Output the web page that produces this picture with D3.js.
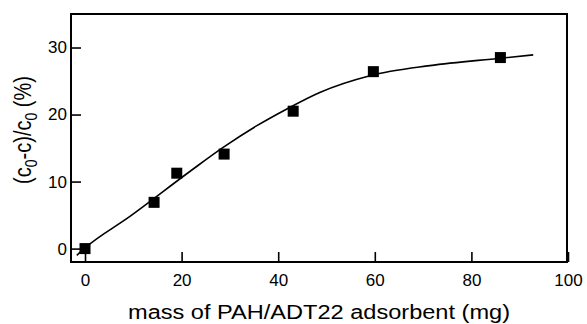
<!DOCTYPE html>
<html>
<head>
<meta charset="utf-8">
<script src="https://cdn.jsdelivr.net/npm/d3@7"></script>
<style>
  body { margin: 0; background: #fff; }
  svg { display: block; font-family: "Liberation Sans", Arial, sans-serif; }
</style>
</head>
<body>
<div id="chart"></div>
<script>
// measured points
const massMg = [0, 14.3, 19.0, 28.8, 43.1, 59.7, 86.0];
const removalPct = [0, 6.9, 11.25, 14.1, 20.5, 26.4, 28.5];

// fitted curve
const fitMass = [-1.7, 0, 9.3, 21.7, 28.6, 35.5, 41.7, 48.6, 59, 71.4, 86, 92.8];
const fitPct = [-1.0, 0.1, 4.8, 11.5, 15.1, 18.3, 20.8, 23.3, 25.8, 27.3, 28.4, 28.9];

const xTicks = [0, 20, 40, 60, 80, 100];
const yTicks = [0, 10, 20, 30];

var width = 587, height = 324;
var plotL = 71, plotR = 568, plotT = 14, plotB = 262;

var svg = d3.select("#chart")
            .append("svg")
            .attr("width", width)
            .attr("height", height);

var x = d3.scaleLinear().domain([-2.9, 100]).range([plotL, plotR]);
var y = d3.scaleLinear().domain([-2, 35]).range([plotB, plotT]);

// axes with inward ticks
var xAxis = svg.append("g")
  .attr("transform", "translate(0," + plotB + ")")
  .call(d3.axisBottom(x).tickValues(xTicks).tickSizeInner(-10).tickSizeOuter(0).tickPadding(12));
var yAxis = svg.append("g")
  .attr("transform", "translate(" + plotL + ",0)")
  .call(d3.axisLeft(y).tickValues(yTicks).tickSizeInner(-10).tickSizeOuter(0).tickPadding(4));

[xAxis, yAxis].forEach(g => {
  g.select(".domain").remove();
  g.selectAll("line").attr("stroke", "#000").attr("stroke-width", 1.6);
  g.selectAll("text")
    .attr("fill", "#000")
    .style("font-size", "17px")
    .style("font-family", "'Liberation Sans', Arial, sans-serif");
});

// frame
svg.append("rect")
  .attr("x", plotL)
  .attr("y", plotT)
  .attr("width", plotR - plotL - 1)
  .attr("height", plotB - plotT)
  .attr("fill", "none")
  .attr("stroke", "#000")
  .attr("stroke-width", 2);

// fit line
var fitData = fitMass.map((m, i) => ({m: m, p: fitPct[i]}));
svg.append("path")
  .datum(fitData)
  .attr("fill", "none")
  .attr("stroke", "#000")
  .attr("stroke-width", 1.6)
  .attr("d", d3.line()
    .x(d => x(d.m))
    .y(d => y(d.p))
    .curve(d3.curveMonotoneX));

// points
var pts = massMg.map((m, i) => ({m: m, p: removalPct[i]}));
var sq = 11;
svg.append("g")
  .selectAll("rect")
  .data(pts)
  .enter()
  .append("rect")
    .attr("x", d => x(d.m) - sq / 2)
    .attr("y", d => y(d.p) - sq / 2)
    .attr("width", sq)
    .attr("height", sq)
    .attr("fill", "#000");

// x title
svg.append("text")
  .attr("x", 319)
  .attr("y", 319)
  .attr("text-anchor", "middle")
  .attr("textLength", 382)
  .attr("lengthAdjust", "spacingAndGlyphs")
  .style("font-size", "20px")
  .text("mass of PAH/ADT22 adsorbent (mg)");

// y title
var yt = svg.append("text")
  .attr("transform", "translate(31,130) scale(1.15,1) rotate(-90)")
  .attr("text-anchor", "middle")
  .style("font-size", "20px");
yt.append("tspan").text("(c");
yt.append("tspan").attr("dy", 5).style("font-size", "14px").text("0");
yt.append("tspan").attr("dy", -5).text("-c)/c");
yt.append("tspan").attr("dy", 5).style("font-size", "14px").text("0");
yt.append("tspan").attr("dy", -5).text(" (%)");
</script>
</body>
</html>
